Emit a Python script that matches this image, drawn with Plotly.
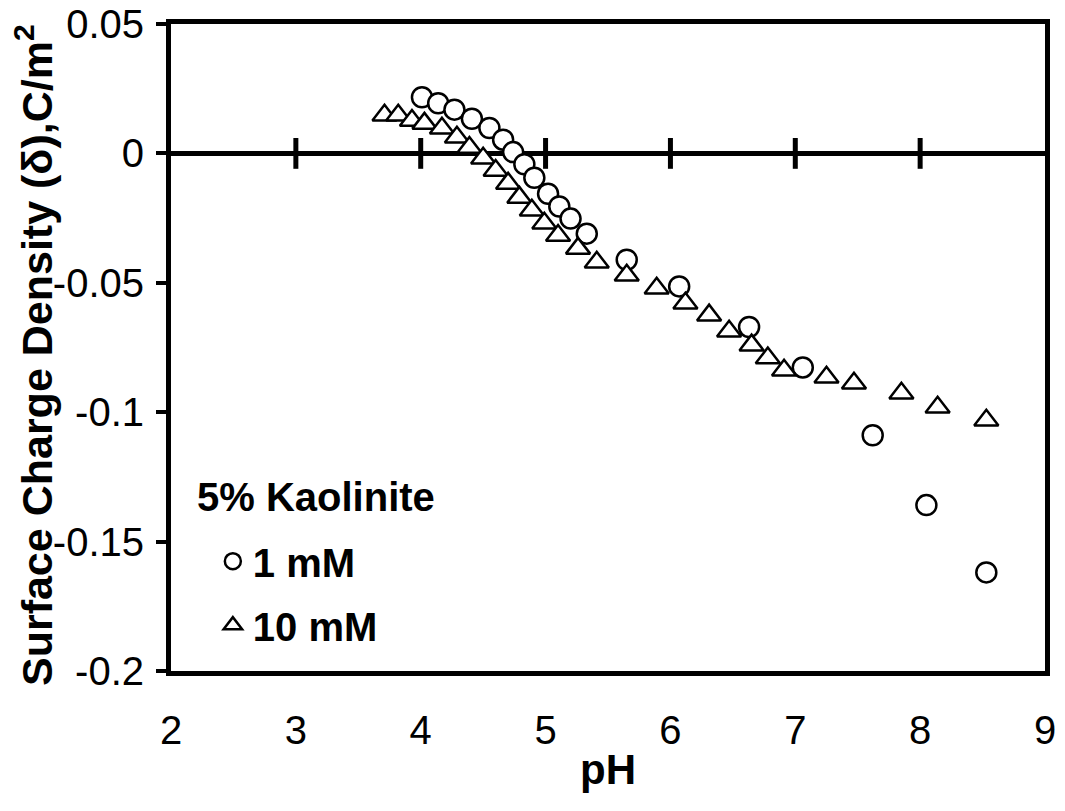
import plotly.graph_objects as go

# 1 mM series (pH, surface charge density C/m2)
ph_1mM = [4.01, 4.14, 4.27, 4.41, 4.55, 4.66, 4.74, 4.83, 4.91, 5.02, 5.11, 5.20, 5.33,
          5.65, 6.07, 6.63, 7.06, 7.62, 8.05, 8.53]
sd_1mM = [0.0217, 0.0194, 0.0169, 0.0134, 0.0098, 0.0053, 0.0005, -0.0042, -0.0094, -0.0156,
          -0.0205, -0.0252, -0.0310, -0.0411, -0.0514, -0.0671, -0.0827, -0.1089, -0.1359, -0.1619]

# 10 mM series
ph_10mM = [3.71, 3.82, 3.93, 4.03, 4.17, 4.29, 4.39, 4.50, 4.60, 4.70, 4.79, 4.89, 4.99, 5.10,
           5.26, 5.41, 5.65, 5.89, 6.12, 6.31, 6.47, 6.65, 6.78, 6.91, 7.25, 7.47, 7.85, 8.14, 8.53]
sd_10mM = [0.0147, 0.0147, 0.0127, 0.0116, 0.0097, 0.0062, 0.0023, -0.0019, -0.0066, -0.0116,
           -0.0170, -0.0220, -0.0270, -0.0317, -0.0367, -0.0421, -0.0471, -0.0521, -0.0579, -0.0625,
           -0.0687, -0.0741, -0.0791, -0.0838, -0.0865, -0.0888, -0.0927, -0.0981, -0.1031]

x_ticks = [2, 3, 4, 5, 6, 7, 8, 9]
y_ticks = [0.05, 0, -0.05, -0.1, -0.15, -0.2]
y_tick_labels = ["0.05", "0", "-0.05", "-0.1", "-0.15", "-0.2"]

FONT = "Arial, Liberation Sans, sans-serif"

fig = go.Figure()

# cross tick marks on the zero line (interior x ticks)
inner = x_ticks[1:-1]
fig.add_trace(go.Scatter(
    x=inner, y=[0] * len(inner), mode="markers", showlegend=False, hoverinfo="skip",
    marker=dict(symbol="line-ns", size=22, line=dict(width=5, color="black"), color="black"),
))

fig.add_trace(go.Scatter(
    x=ph_1mM, y=sd_1mM, mode="markers", name="1 mM", legendgroup="a",
    marker=dict(symbol="circle", size=20, color="white", line=dict(width=2.5, color="black")),
))
fig.add_trace(go.Scatter(
    x=ph_10mM, y=sd_10mM, mode="markers", name="10 mM", legendgroup="b",
    marker=dict(symbol="triangle-up", size=21, color="white", line=dict(width=2.5, color="black")),
))

fig.update_layout(
    width=1065, height=811,
    margin=dict(l=171, r=20, t=24, b=140, autoexpand=False),
    paper_bgcolor="white", plot_bgcolor="white",
    font=dict(family=FONT, size=40, color="black"),
    showlegend=True,
    legend=dict(
        x=0.025, y=0.22, xanchor="left", yanchor="top",
        bgcolor="rgba(0,0,0,0)",
        font=dict(size=40, family=FONT, weight="bold"),
        traceorder="grouped", tracegroupgap=9,
        indentation=20,
    ),
    xaxis=dict(
        range=[2, 9], tickvals=x_ticks, ticks="", showgrid=False, zeroline=False,
        showline=True, linewidth=5, linecolor="black", mirror=True,
        tickfont=dict(size=40, family=FONT), ticklabelstandoff=20,
    ),
    yaxis=dict(
        range=[-0.2, 0.05], tickvals=y_ticks, ticktext=y_tick_labels,
        ticks="outside", ticklen=10, tickwidth=4, tickcolor="black",
        showgrid=False, zeroline=True, zerolinewidth=5, zerolinecolor="black",
        showline=True, linewidth=5, linecolor="black", mirror=True,
        tickfont=dict(size=40, family=FONT), ticklabelstandoff=4,
    ),
    annotations=[
        dict(text="<b>5% Kaolinite</b>", xref="paper", yref="paper", x=0.0275, y=0.269,
             xanchor="left", yanchor="middle", showarrow=False,
             font=dict(size=40, family=FONT)),
        dict(text="<b>pH</b>", xref="paper", yref="paper", x=0.5, y=-0.153,
             xanchor="center", yanchor="middle", showarrow=False,
             font=dict(size=42, family=FONT)),
        dict(text="<b>Surface Charge Density (δ),C/m<sup>2</sup></b>", xref="paper", yref="paper",
             x=-0.157, y=0.488, xanchor="center", yanchor="middle", textangle=-90,
             showarrow=False, font=dict(size=43, family=FONT)),
    ],
)

fig.write_html("out.html")
